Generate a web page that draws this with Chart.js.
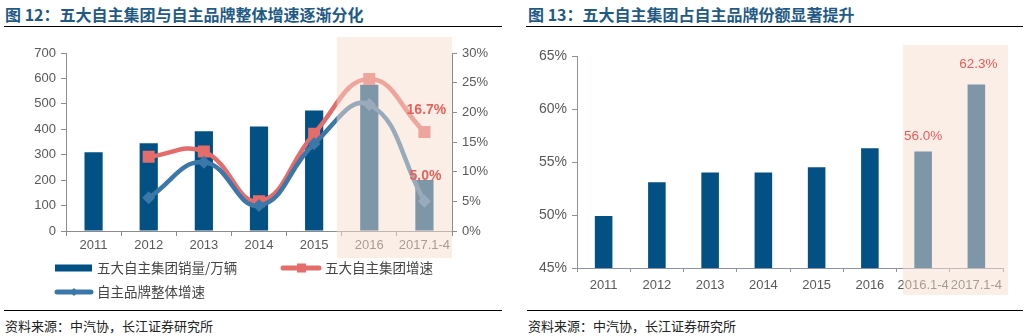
<!DOCTYPE html>
<html><head><meta charset="utf-8">
<script src="https://cdn.jsdelivr.net/npm/chart.js@4"></script>
<style>
body{margin:0;width:1027px;height:336px;background:#fff;position:relative;overflow:hidden;font-family:"Noto Sans CJK SC",sans-serif}
.title{position:absolute;top:2px;font-size:16px;font-weight:bold;color:#1f5a87;white-space:nowrap;line-height:24px}
.rule{position:absolute;height:0;border-top:1.5px solid #000}
.src{position:absolute;top:316px;font-size:13px;color:#222;white-space:nowrap;line-height:20px}
.wrap{position:absolute;top:30px;height:275px}
</style></head>
<body>
<div class="title" style="left:5px">图 12：五大自主集团与自主品牌整体增速逐渐分化</div>
<div class="rule" style="left:4px;width:498px;top:26px"></div>
<div class="wrap" style="left:0;width:510px"><canvas id="c1" width="510" height="275"></canvas></div>
<div class="rule" style="left:4px;width:498px;top:310px"></div>
<div class="src" style="left:5px">资料来源：中汽协，长江证券研究所</div>

<div class="title" style="left:528px">图 13：五大自主集团占自主品牌份额显著提升</div>
<div class="rule" style="left:526px;width:497px;top:26px"></div>
<div class="wrap" style="left:515px;width:512px"><canvas id="c2" width="512" height="275"></canvas></div>
<div class="rule" style="left:527px;width:496px;top:310px"></div>
<div class="src" style="left:528px">资料来源：中汽协，长江证券研究所</div>

<script>
// ---- data ----
const categoriesL = ['2011','2012','2013','2014','2015','2016','2017.1-4'];
const salesL = [310, 345, 392, 411, 474, 575, 201];           // 五大自主集团销量/万辆
const groupGrowth = [null, 12.5, 13.4, 5.0, 16.4, 25.6, 16.7];  // 五大自主集团增速 %
const brandGrowth = [null, 5.6, 11.6, 4.3, 14.7, 21.3, 5.0];    // 自主品牌整体增速 %
const leftTicks = [0,100,200,300,400,500,600,700];
const rightTicks = [0,5,10,15,20,25,30];

const categoriesR = ['2011','2012','2013','2014','2015','2016','2016.1-4','2017.1-4'];
const shareR = [49.9, 53.1, 54.0, 54.0, 54.5, 56.3, 56.0, 62.3];
const shareTicks = [45,50,55,60,65];

// ---- styles ----
const NUM = '"Liberation Sans", Arial, sans-serif';
const CJK = '"Noto Sans CJK SC", sans-serif';
const BAR = '#035184';
const RED = '#e46c6a';
const BLUE = '#3b78a9';
const AX = '#8c8c8c';

function overlayPlugin(startVal, extraRight, topExt, botExt){
  return {
    id:'shade',
    afterDatasetsDraw(chart){
      const ctx = chart.ctx, x = chart.scales.x, a = chart.chartArea;
      const x0 = x.getPixelForValue(startVal);
      ctx.save();
      ctx.fillStyle = 'rgba(247,221,205,0.5)';
      ctx.fillRect(x0, a.top - topExt, a.right + extraRight - x0, a.bottom + botExt - (a.top - topExt));
      ctx.restore();
    }
  };
}

function labelsPlugin(specs){
  return {
    id:'vlabels',
    afterDraw(chart){
      const ctx = chart.ctx;
      ctx.save();
      specs.forEach(s => {
        const meta = chart.getDatasetMeta(s.ds);
        const el = meta.data[s.idx];
        const v = chart.data.datasets[s.ds].data[s.idx];
        ctx.font = s.font;
        ctx.fillStyle = s.color;
        ctx.textAlign = 'center';
        ctx.textBaseline = 'middle';
        ctx.fillText(v.toFixed(1) + '%', el.x + (s.dx||0), el.y + s.dy);
      });
      ctx.restore();
    }
  };
}

const legendPlugin = {
  id:'customLegend',
  afterDraw(chart){
    const ctx = chart.ctx, ds = chart.data.datasets;
    ctx.save();
    ctx.font = '13.5px ' + CJK;
    ctx.textBaseline = 'middle';
    ctx.textAlign = 'left';
    // bars
    let y = 238;
    ctx.fillStyle = ds[0].backgroundColor;
    ctx.fillRect(55, y - 3.5, 37, 7);
    ctx.fillStyle = '#454545';
    ctx.fillText(ds[0].label, 97, y);
    // red line
    ctx.strokeStyle = ds[1].borderColor; ctx.lineWidth = 5; ctx.lineCap = 'round';
    ctx.beginPath(); ctx.moveTo(283, y); ctx.lineTo(319, y); ctx.stroke();
    ctx.fillStyle = ds[1].borderColor;
    ctx.fillRect(297, y - 4.5, 9, 9);
    ctx.fillStyle = '#454545';
    ctx.fillText(ds[1].label, 325, y);
    // blue line
    y = 262;
    ctx.strokeStyle = ds[2].borderColor;
    ctx.beginPath(); ctx.moveTo(57, y); ctx.lineTo(91, y); ctx.stroke();
    ctx.fillStyle = ds[2].borderColor;
    ctx.beginPath(); ctx.moveTo(74, y - 4); ctx.lineTo(78, y); ctx.lineTo(74, y + 4); ctx.lineTo(70, y); ctx.closePath(); ctx.fill();
    ctx.fillStyle = '#454545';
    ctx.fillText(ds[2].label, 97, y);
    ctx.restore();
  }
};

new Chart(document.getElementById('c1'), {
  type:'bar',
  data:{
    labels: categoriesL,
    datasets:[
      {type:'bar', label:'五大自主集团销量/万辆', data: salesL, backgroundColor: BAR, yAxisID:'y',
       barPercentage:0.33, categoryPercentage:1, order:3},
      {type:'line', label:'五大自主集团增速', data: groupGrowth, borderColor: RED, backgroundColor: RED,
       borderWidth:4.5, tension:0.45, pointStyle:'rect', pointRadius:8.5, pointBorderWidth:0,
       pointBackgroundColor: RED, yAxisID:'y1', order:2},
      {type:'line', label:'自主品牌整体增速', data: brandGrowth, borderColor: BLUE, backgroundColor: BLUE,
       borderWidth:4.5, tension:0.45, pointStyle:'rectRot', pointRadius:6.5, pointBorderWidth:0,
       pointBackgroundColor: BLUE, yAxisID:'y1', order:1}
    ]
  },
  options:{
    responsive:false, animation:false, events:[],
    layout:{padding:{top:23, left:0, right:0, bottom:0}},
    plugins:{legend:{display:false}, tooltip:{enabled:false}},
    scales:{
      x:{
        grid:{display:true, drawOnChartArea:false, drawTicks:true, tickLength:5, color:AX, offset:true},
        border:{color:AX, width:1},
        ticks:{color:'#595959', font:{family:NUM, size:13}, padding:2, maxRotation:0, autoSkip:false},
        afterFit(s){ s.height = 74; }
      },
      y:{
        position:'left', min:0, max:700,
        afterBuildTicks(s){ s.ticks = leftTicks.map(v => ({value:v})); },
        grid:{display:true, drawOnChartArea:false, tickLength:5, color:AX},
        border:{color:AX, width:1},
        ticks:{color:'#595959', font:{family:NUM, size:13}, padding:5},
        afterFit(s){ s.width = 66; }
      },
      y1:{
        position:'right', min:0, max:30,
        afterBuildTicks(s){ s.ticks = rightTicks.map(v => ({value:v})); },
        grid:{display:true, drawOnChartArea:false, tickLength:5, color:AX},
        border:{color:AX, width:1},
        ticks:{color:'#595959', font:{family:NUM, size:13}, padding:5, callback:v => v + '%'},
        afterFit(s){ s.width = 58; }
      }
    }
  },
  plugins:[overlayPlugin(4.41, 0, 16, 27),
    labelsPlugin([
      {ds:1, idx:6, dy:-22, dx:2, font:'bold 14px ' + NUM, color:'#e8625c'},
      {ds:2, idx:6, dy:-25, dx:1, font:'bold 14px ' + NUM, color:'#e8625c'}
    ]), legendPlugin]
});

new Chart(document.getElementById('c2'), {
  type:'bar',
  data:{
    labels: categoriesR,
    datasets:[
      {label:'五大自主集团占自主品牌份额', data: shareR, backgroundColor: BAR,
       barPercentage:0.33, categoryPercentage:1}
    ]
  },
  options:{
    responsive:false, animation:false, events:[],
    layout:{padding:{top:26, left:0, right:24, bottom:0}},
    plugins:{legend:{display:false}, tooltip:{enabled:false}},
    scales:{
      x:{
        grid:{display:true, drawOnChartArea:false, drawTicks:true, tickLength:4, color:'#8a94a6', offset:true},
        border:{color:'#8a94a6', width:1},
        ticks:{color:'#595959', font:{family:NUM, size:13}, padding:6, maxRotation:0, autoSkip:false},
        afterFit(s){ s.height = 37; }
      },
      y:{
        min:45, max:65,
        afterBuildTicks(s){ s.ticks = shareTicks.map(v => ({value:v})); },
        grid:{display:true, drawOnChartArea:false, tickLength:5, color:'#8a94a6'},
        border:{color:'#8a94a6', width:1},
        ticks:{color:'#595959', font:{family:NUM, size:14}, padding:5, callback:v => v + '%'},
        afterFit(s){ s.width = 62; }
      }
    }
  },
  plugins:[overlayPlugin(5.62, 5, 11, 27),
    labelsPlugin([
      {ds:0, idx:6, dy:-15, dx:0, font:'13.5px ' + NUM, color:'#ec5b5b'},
      {ds:0, idx:7, dy:-20, dx:2, font:'13.5px ' + NUM, color:'#ec5b5b'}
    ])]
});
</script>
</body></html>
